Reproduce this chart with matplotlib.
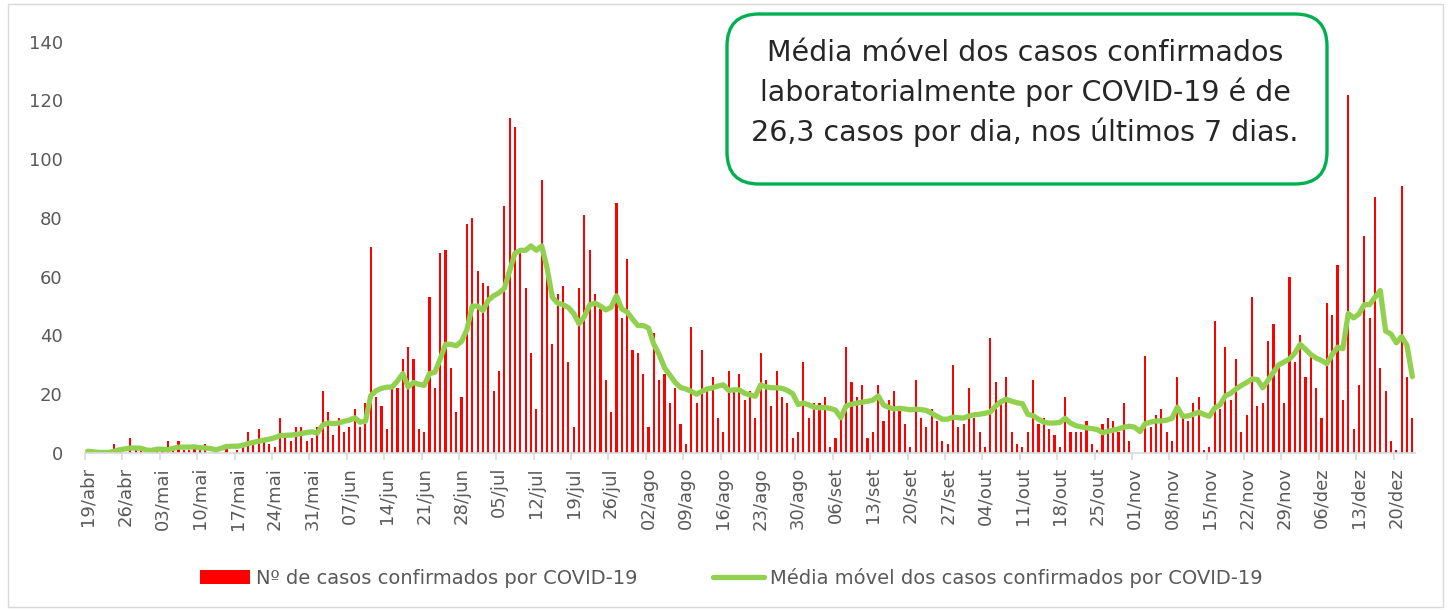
import matplotlib.pyplot as plt
from matplotlib.patches import FancyBboxPatch, Rectangle

# Daily confirmed cases, 19/abr to 23/dez (one value per day)
cases = [
    0, 1, 0, 0, 0, 3, 1,
    0, 5, 1, 1, 0, 1, 1,
    2, 4, 1, 4, 1, 1, 2,
    1, 3, 0, 1, 0, 3, 0,
    1, 3, 7, 4, 8, 4, 3,
    2, 12, 5, 4, 9, 9, 4,
    5, 9, 21, 14, 6, 12, 7,
    9, 15, 9, 17, 70, 19, 16,
    8, 22, 22, 32, 36, 32, 8,
    7, 53, 22, 68, 69, 29, 14,
    19, 78, 80, 62, 58, 57, 21,
    28, 84, 114, 111, 68, 56, 34,
    15, 93, 60, 37, 54, 57, 31,
    9, 56, 81, 69, 54, 49, 25,
    14, 85, 46, 66, 35, 34, 27,
    9, 41, 25, 27, 17, 22, 10,
    3, 43, 17, 35, 21, 26, 12,
    7, 28, 21, 27, 18, 21, 12,
    34, 25, 16, 28, 19, 17, 5,
    7, 31, 12, 17, 17, 19, 2,
    5, 12, 36, 24, 19, 23, 5,
    7, 23, 11, 18, 21, 16, 10,
    2, 25, 12, 9, 15, 11, 4,
    3, 30, 9, 10, 22, 12, 7,
    2, 39, 24, 17, 26, 7, 3,
    2, 7, 25, 10, 12, 8, 6,
    2, 19, 7, 7, 7, 11, 3,
    1, 10, 12, 11, 7, 17, 4,
    0, 0, 33, 9, 13, 15, 7,
    4, 26, 12, 11, 17, 19, 1,
    2, 45, 15, 36, 18, 32, 7,
    13, 53, 16, 17, 38, 44, 30,
    17, 60, 31, 40, 26, 33, 22,
    12, 51, 47, 64, 18, 122, 8,
    23, 74, 46, 87, 29, 21, 4,
    1, 91, 26, 12,
]

# 7-day moving average as drawn
moving_avg = [
    0.6, 0.4, 0.2, 0.2, 0.2, 0.6, 1.1,
    1.4, 1.7, 1.7, 1.6, 1.0, 0.9, 1.3,
    1.3, 1.1, 1.6, 2.0, 2.0, 2.0, 2.1,
    1.8, 1.7, 1.5, 1.1, 1.6, 2.2, 2.3,
    2.3, 2.6, 3.2, 3.6, 4.0, 4.4, 4.7,
    5.2, 5.9, 6.0, 6.1, 6.3, 6.6, 7.0,
    7.2, 6.8, 9.5, 10.2, 10.0, 10.2, 10.8,
    11.2, 12.0, 10.5, 10.8, 19.5, 21.2, 22.0,
    22.4, 22.5, 24.5, 27.0, 22.5, 24.0, 23.4,
    23.0, 27.0, 27.5, 32.0, 37.0, 37.0, 36.5,
    38.0, 42.0, 50.0, 50.0, 48.5, 52.0, 53.5,
    54.5, 56.0, 62.0, 68.0, 69.0, 69.0, 70.5,
    69.0, 70.5, 63.0, 53.0, 51.0, 50.5, 49.5,
    47.5, 44.0, 46.5, 50.5, 51.0, 50.0, 48.7,
    49.6, 53.5, 49.0, 48.0, 45.6, 43.4, 43.4,
    42.5, 37.0, 33.5, 29.0, 26.5, 24.0, 22.3,
    21.8, 21.0, 20.0, 21.0, 21.8, 22.2, 22.8,
    23.2, 21.3, 21.5, 21.5, 20.3, 19.8, 19.3,
    23.2, 22.5, 22.2, 22.2, 22.0, 21.3, 20.2,
    16.5, 17.0, 16.4, 15.6, 15.4, 15.5, 15.2,
    14.6, 12.0, 16.0, 16.6, 17.0, 17.3, 17.6,
    18.0, 19.4, 16.3, 15.5, 15.0, 15.2, 15.0,
    14.7, 14.9, 14.8, 14.5, 13.5, 12.5, 11.5,
    11.5, 12.2, 12.0, 11.9, 12.6, 13.0, 13.2,
    13.5, 14.0, 16.0, 17.5, 18.3, 17.6, 17.1,
    16.8, 13.2, 12.7, 11.5, 10.5, 10.2, 10.2,
    10.4, 11.8, 10.2, 9.3, 8.9, 8.6, 8.3,
    8.0, 6.9, 7.4, 7.8, 8.2, 8.8, 9.1,
    8.8, 7.3, 10.0, 10.5, 10.9, 10.9, 11.2,
    11.8, 15.6, 12.5, 12.6, 13.2, 13.9, 13.1,
    12.5, 15.3, 16.4, 19.5, 20.3, 21.8, 23.0,
    24.0, 25.2, 25.0, 22.2, 24.8, 27.5, 30.0,
    31.0, 32.0, 34.0, 37.0, 35.3, 33.5, 32.3,
    31.5, 30.4, 33.5, 36.0, 35.5, 47.5, 46.0,
    47.3, 50.5, 50.5, 53.0, 55.3, 41.5, 40.5,
    37.5, 39.6, 36.6, 26.0,
]

# one label every 7 days
tick_labels = ['19/abr', '26/abr', '03/mai', '10/mai', '17/mai', '24/mai', '31/mai',
               '07/jun', '14/jun', '21/jun', '28/jun', '05/jul', '12/jul', '19/jul',
               '26/jul', '02/ago', '09/ago', '16/ago', '23/ago', '30/ago', '06/set',
               '13/set', '20/set', '27/set', '04/out', '11/out', '18/out', '25/out',
               '01/nov', '08/nov', '15/nov', '22/nov', '29/nov', '06/dez', '13/dez',
               '20/dez']

bar_label = 'Nº de casos confirmados por COVID-19'
line_label = 'Média móvel dos casos confirmados por COVID-19'
note = ('Média móvel dos casos confirmados\n'
        'laboratorialmente por COVID-19 é de\n'
        '26,3 casos por dia, nos últimos 7 dias.')

grey = '#595959'
plt.rcParams['font.family'] = ['DejaVu Sans']

fig = plt.figure(figsize=(14.51, 6.10), dpi=100)
ax = fig.add_axes([85 / 1451, 1 - 453 / 610, 1330 / 1451, 411.3 / 610])

x = list(range(len(cases)))
bars = ax.bar(x, cases, width=0.4, color='#FF0000', label=bar_label)
line, = ax.plot(x, moving_avg, color='#92D050', lw=3.8, solid_capstyle='round',
                solid_joinstyle='round', label=line_label)

ax.set_xlim(-0.5, len(cases) - 0.5)
ax.set_ylim(0, 140)
ax.set_yticks(range(0, 141, 20))

tick_pos = list(range(0, len(cases), 7))[:len(tick_labels)]
ax.set_xticks(tick_pos)
ax.set_xticklabels(tick_labels, rotation=90)
ax.set_xticks([p - 0.5 for p in tick_pos], minor=True)
ax.tick_params(axis='x', which='major', length=0, pad=10, labelsize=13, labelcolor=grey)
ax.tick_params(axis='x', which='minor', length=5, width=1.2, color='#D9D9D9')
ax.tick_params(axis='y', length=0, pad=16, labelsize=13, labelcolor=grey)

for side in ['top', 'right', 'left']:
    ax.spines[side].set_visible(False)
ax.spines['bottom'].set_color('#D9D9D9')
ax.spines['bottom'].set_linewidth(1.2)

fig.legend([bars, line], [bar_label, line_label], loc='center',
           bbox_to_anchor=(731 / 1451, 1 - 578 / 610), ncol=2, frameon=False,
           fontsize=14, handlelength=2.6, handletextpad=0.3, columnspacing=3.9,
           labelcolor=grey)

# note box in the top right
box = FancyBboxPatch((7.27, 4.26), 6.0, 1.70, boxstyle='round,pad=0,rounding_size=0.32',
                     transform=fig.dpi_scale_trans, facecolor='white',
                     edgecolor='#00B050', lw=2.4)
fig.patches.append(box)
fig.text(1025 / 1451, 1 - 93 / 610, note, ha='center', va='center', fontsize=20.5,
         linespacing=1.45, color='#262626')

# chart area border
fig.patches.append(Rectangle((8 / 1451, 3 / 610), 1435 / 1451, 603 / 610,
                             transform=fig.transFigure, fill=False,
                             edgecolor='#D9D9D9', lw=1))

fig.savefig('out.png', dpi=100)
